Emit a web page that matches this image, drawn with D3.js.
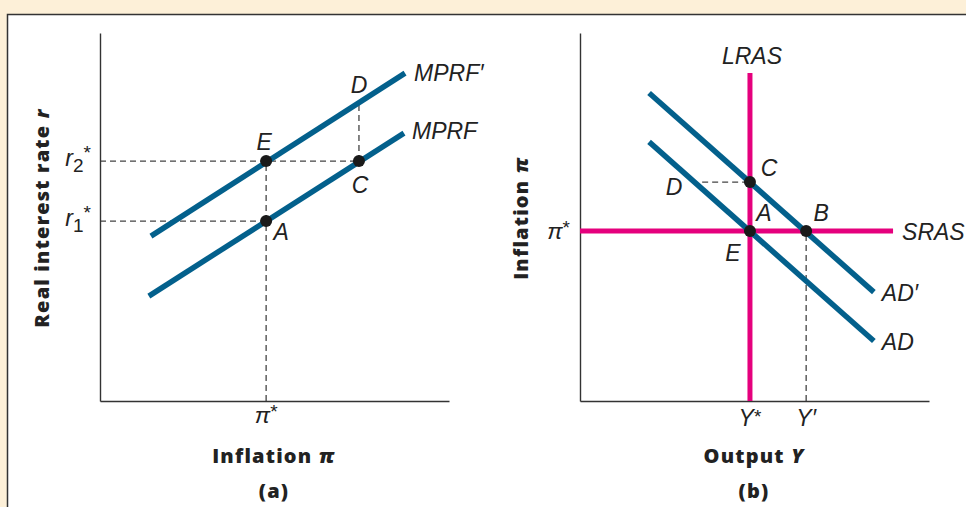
<!DOCTYPE html>
<html>
<head>
<meta charset="utf-8">
<script src="https://cdn.jsdelivr.net/npm/d3@7"></script>
<style>
  body { margin: 0; background: #fdf0d8; }
  svg { display: block; }
  .lbl { font-family: "Liberation Sans", Arial, sans-serif; font-style: italic; font-size: 23px; fill: #222; }
  .ttl { font-family: "Open Sans", Lato, sans-serif; font-weight: 800; font-size: 20px; fill: #222; letter-spacing: 1.2px; }
</style>
</head>
<body>
<svg width="966" height="507"></svg>
<script>
// Data set (abstract units 0..10 on each axis)
// panel (a): inflation vs real interest rate
var mprf      = [[1.40, 2.85], [8.71, 7.28]];
var mprfPrime = [[1.46, 4.48], [8.74, 8.91]];
var piStarA = 4.76, r1Star = 4.89, r2Star = 6.52, piC = 7.42, rD = 8.10;
var pointsA = [
  {name: 'E', xy: [piStarA, r2Star], dx: -2, dy: -11},
  {name: 'A', xy: [piStarA, r1Star], dx: 15, dy: 19},
  {name: 'C', xy: [piC, r2Star], dx: 1, dy: 32}
];

// panel (b): output vs inflation
var ad      = [[1.98, 7.04], [8.42, 1.63]];
var adPrime = [[1.98, 8.37], [8.42, 2.96]];
var yStar = 4.87, yPrime = 6.48, piStarB = 4.62, piCB = 5.95, sraEnd = 8.97, lrasEnd = 8.91, dStartB = 3.50;
var pointsB = [
  {name: 'A', xy: [yStar, piStarB]},
  {name: 'B', xy: [yPrime, piStarB]},
  {name: 'C', xy: [yStar, piCB]}
];

var blue = "#03608c", pink = "#e5007d", dash = "#444";

var svg = d3.select("svg");

// white panel with border
svg.append("rect")
  .attr("x", 7.5).attr("y", 14.5)
  .attr("width", 1000).attr("height", 600)
  .attr("fill", "#fff").attr("stroke", "#333").attr("stroke-width", 1.5);

// Scales
var xA = d3.scaleLinear().domain([0, 10]).range([100, 449]);
var yA = d3.scaleLinear().domain([0, 10]).range([401, 33]);
var xB = d3.scaleLinear().domain([0, 10]).range([580, 929]);
var yB = d3.scaleLinear().domain([0, 10]).range([401, 33]);

function line(x, y) {
  return d3.line().x(function(d) { return x(d[0]); }).y(function(d) { return y(d[1]); });
}

function dashed(g, x, y, pts) {
  g.append("path")
    .attr("d", line(x, y)(pts))
    .attr("fill", "none").attr("stroke", dash)
    .attr("stroke-width", 1.3).attr("stroke-dasharray", "6,4");
}

function drawAxes(g, x, y) {
  var ax = g.append("g").attr("transform", "translate(0," + y(0) + ")")
    .call(d3.axisBottom(x).tickValues([]).tickSizeOuter(0));
  var ay = g.append("g").attr("transform", "translate(" + x(0) + ",0)")
    .call(d3.axisLeft(y).tickValues([]).tickSizeOuter(0));
  [ax, ay].forEach(function(a) {
    a.select(".domain").attr("stroke", "#333").attr("stroke-width", 1.4);
  });
}

function starLabel(g, base, sub, px, py, anchor) {
  var t = g.append("text").attr("class", "lbl")
    .attr("x", px).attr("y", py).attr("text-anchor", anchor || "middle");
  t.append("tspan").text(base);
  if (sub) t.append("tspan").attr("font-size", 19).attr("font-style", "normal").attr("dy", 6).text(sub);
  t.append("tspan").attr("font-size", 19).attr("font-style", "normal").attr("dy", sub ? -13 : -5).text("*");
  return t;
}

function dots(g, x, y, pts) {
  g.selectAll("circle.pt").data(pts).enter().append("circle")
    .attr("class", "pt")
    .attr("cx", function(d) { return x(d.xy[0]); })
    .attr("cy", function(d) { return y(d.xy[1]); })
    .attr("r", 6).attr("fill", "#1a1a1a");
}

// ---------- Panel (a) ----------
var ga = svg.append("g");
dashed(ga, xA, yA, [[0, r2Star], [piC, r2Star]]);
dashed(ga, xA, yA, [[0, r1Star], [piStarA, r1Star]]);
dashed(ga, xA, yA, [[piStarA, 0], [piStarA, r2Star]]);
dashed(ga, xA, yA, [[piC, r2Star], [piC, rD]]);
drawAxes(ga, xA, yA);

[mprf, mprfPrime].forEach(function(l) {
  ga.append("path").attr("d", line(xA, yA)(l))
    .attr("fill", "none").attr("stroke", blue).attr("stroke-width", 5.5);
});
dots(ga, xA, yA, pointsA);

ga.selectAll("text.pl").data(pointsA).enter().append("text")
  .attr("class", "lbl pl").attr("text-anchor", "middle")
  .attr("x", function(d) { return xA(d.xy[0]) + d.dx; })
  .attr("y", function(d) { return yA(d.xy[1]) + d.dy; })
  .text(function(d) { return d.name; });
ga.append("text").attr("class", "lbl").attr("text-anchor", "middle")
  .attr("x", xA(piC)).attr("y", yA(rD) - 10).text("D");
ga.append("text").attr("class", "lbl")
  .attr("x", xA(mprfPrime[1][0]) + 9).attr("y", yA(mprfPrime[1][1]) + 8).text("MPRF′");
ga.append("text").attr("class", "lbl")
  .attr("x", xA(mprf[1][0]) + 8).attr("y", yA(mprf[1][1]) + 6).text("MPRF");

starLabel(ga, "r", "2", xA(0) - 9, yA(r2Star) + 5, "end");
starLabel(ga, "r", "1", xA(0) - 9, yA(r1Star) + 5, "end");
starLabel(ga, "π", null, xA(piStarA), 423);

ga.append("text").attr("class", "ttl").attr("text-anchor", "middle")
  .attr("x", 274).attr("y", 463)
  .html('Inflation <tspan font-style="italic">π</tspan>');
ga.append("text").attr("class", "ttl").attr("text-anchor", "middle")
  .attr("x", 274).attr("y", 498).text("(a)");
ga.append("text").attr("class", "ttl").attr("text-anchor", "middle")
  .attr("transform", "translate(49,218) rotate(-90)")
  .html('Real interest rate <tspan font-style="italic">r</tspan>');

// ---------- Panel (b) ----------
var gb = svg.append("g");
dashed(gb, xB, yB, [[dStartB, piCB], [yStar, piCB]]);
dashed(gb, xB, yB, [[yPrime, 0], [yPrime, piStarB]]);
drawAxes(gb, xB, yB);

gb.append("path").attr("d", line(xB, yB)([[0, piStarB], [sraEnd, piStarB]]))
  .attr("stroke", pink).attr("stroke-width", 5);
gb.append("path").attr("d", line(xB, yB)([[yStar, 0], [yStar, lrasEnd]]))
  .attr("stroke", pink).attr("stroke-width", 5);

[ad, adPrime].forEach(function(l) {
  gb.append("path").attr("d", line(xB, yB)(l))
    .attr("fill", "none").attr("stroke", blue).attr("stroke-width", 5.5);
});
dots(gb, xB, yB, pointsB);

var lb = [
  {t: "C", x: yStar, y: piCB, dx: 19, dy: -6},
  {t: "D", x: dStartB, y: piCB, dx: -28, dy: 13},
  {t: "A", x: yStar, y: piStarB, dx: 14, dy: -10},
  {t: "E", x: yStar, y: piStarB, dx: -17, dy: 30},
  {t: "B", x: yPrime, y: piStarB, dx: 15, dy: -10}
];
gb.selectAll("text.pl").data(lb).enter().append("text")
  .attr("class", "lbl pl").attr("text-anchor", "middle")
  .attr("x", function(d) { return xB(d.x) + d.dx; })
  .attr("y", function(d) { return yB(d.y) + d.dy; })
  .text(function(d) { return d.t; });
gb.append("text").attr("class", "lbl")
  .attr("x", xB(adPrime[1][0]) + 8).attr("y", yB(adPrime[1][1]) + 9).text("AD′");
gb.append("text").attr("class", "lbl")
  .attr("x", xB(ad[1][0]) + 8).attr("y", yB(ad[1][1]) + 9).text("AD");
gb.append("text").attr("class", "lbl")
  .attr("x", xB(sraEnd) + 9).attr("y", yB(piStarB) + 9).text("SRAS");
gb.append("text").attr("class", "lbl").attr("text-anchor", "middle")
  .attr("x", xB(yStar) + 2).attr("y", yB(lrasEnd) - 9).text("LRAS");

starLabel(gb, "π", null, xB(0) - 10, yB(piStarB) + 8, "end");
var ys = gb.append("text").attr("class", "lbl").attr("text-anchor", "middle")
  .attr("x", xB(yStar)).attr("y", 426);
ys.append("tspan").text("Y");
ys.append("tspan").attr("font-size", 19).attr("font-style", "normal").attr("dy", -3).text("*");
gb.append("text").attr("class", "lbl").attr("text-anchor", "middle")
  .attr("x", xB(yPrime)).attr("y", 426).text("Y′");

gb.append("text").attr("class", "ttl").attr("text-anchor", "middle")
  .attr("x", 754).attr("y", 463)
  .html('Output <tspan font-style="italic">Y</tspan>');
gb.append("text").attr("class", "ttl").attr("text-anchor", "middle")
  .attr("x", 754).attr("y", 498).text("(b)");
gb.append("text").attr("class", "ttl").attr("text-anchor", "middle")
  .attr("transform", "translate(528,218) rotate(-90)")
  .html('Inflation <tspan font-style="italic">π</tspan>');
</script>
</body>
</html>
